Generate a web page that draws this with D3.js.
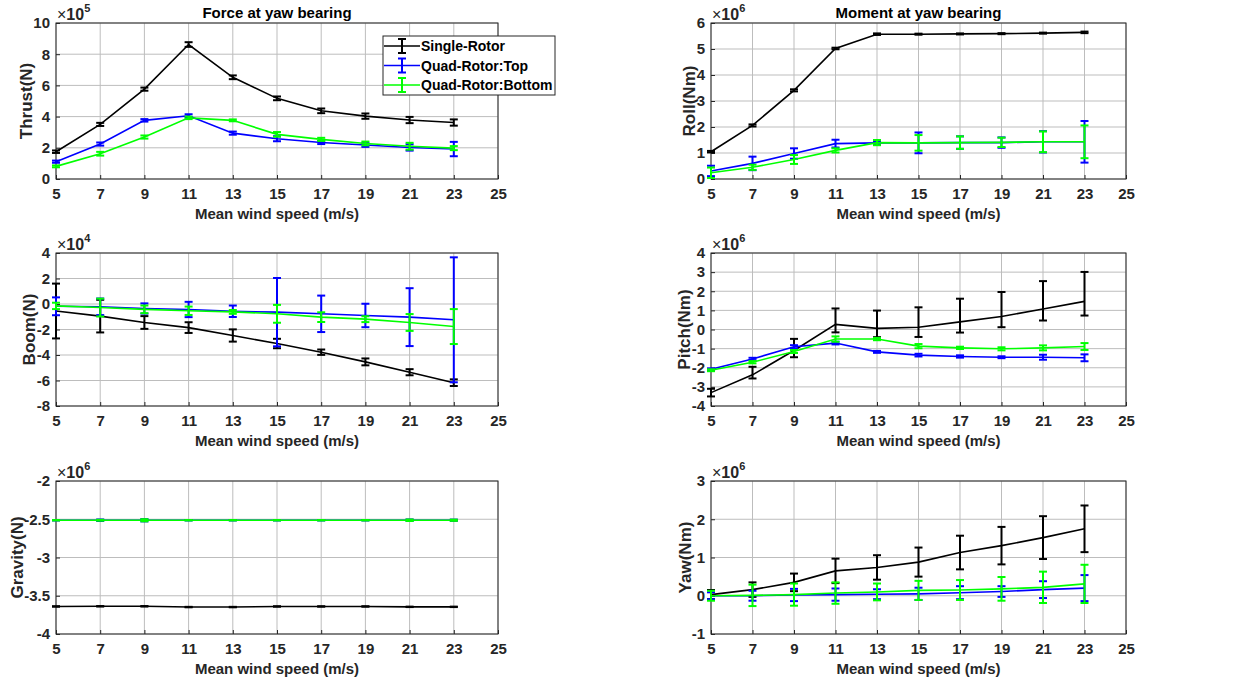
<!DOCTYPE html>
<html>
<head>
<meta charset="utf-8">
<script src="https://cdn.jsdelivr.net/npm/d3@7"></script>
<style>
  html, body { margin: 0; padding: 0; background: #fff; }
  svg { display: block; font-family: "Liberation Sans", Arial, Helvetica, sans-serif; }
</style>
</head>
<body>
<svg id="chart" width="1260" height="690"></svg>
<script>
// Mean wind speed (m/s) at which each load case was simulated
const windSpeed = [5, 7, 9, 11, 13, 15, 17, 19, 21, 23];
const xTicks = [5, 7, 9, 11, 13, 15, 17, 19, 21, 23, 25];
const seriesNames = ["Single-Rotor", "Quad-Rotor:Top", "Quad-Rotor:Bottom"];

// Thrust, x1e5 N
const thrustSingle    = [1.75, 3.50, 5.76, 8.62, 6.52, 5.17, 4.37, 4.03, 3.78, 3.62];
const thrustSingleErr = [0.08, 0.10, 0.10, 0.15, 0.12, 0.12, 0.15, 0.17, 0.20, 0.20];
const thrustTop       = [1.11, 2.24, 3.76, 4.05, 2.94, 2.58, 2.34, 2.18, 2.02, 1.92];
const thrustTopErr    = [0.07, 0.10, 0.08, 0.10, 0.10, 0.16, 0.10, 0.12, 0.20, 0.46];
const thrustBottom    = [0.81, 1.62, 2.69, 3.92, 3.76, 2.86, 2.54, 2.28, 2.10, 1.98];
const thrustBottomErr = [0.06, 0.12, 0.10, 0.08, 0.06, 0.15, 0.10, 0.12, 0.22, 0.13];
const thrustTicks = [0, 2, 4, 6, 8, 10];

// Roll moment, x1e6 Nm
const rollSingle    = [1.05, 2.06, 3.41, 5.02, 5.57, 5.57, 5.58, 5.59, 5.61, 5.64];
const rollSingleErr = [0.03, 0.04, 0.04, 0.03, 0.03, 0.02, 0.02, 0.02, 0.02, 0.03];
const rollTop       = [0.31, 0.60, 0.98, 1.36, 1.39, 1.39, 1.40, 1.40, 1.43, 1.43];
const rollTopErr    = [0.20, 0.26, 0.20, 0.15, 0.07, 0.40, 0.24, 0.20, 0.41, 0.80];
const rollBottom    = [0.24, 0.45, 0.75, 1.10, 1.40, 1.39, 1.40, 1.41, 1.43, 1.43];
const rollBottomErr = [0.20, 0.10, 0.17, 0.08, 0.10, 0.30, 0.24, 0.18, 0.40, 0.63];
const rollTicks = [0, 1, 2, 3, 4, 5, 6];

// Boom force, x1e4 N
const boomSingle    = [-0.55, -0.95, -1.45, -1.85, -2.47, -3.10, -3.78, -4.54, -5.35, -6.17];
const boomSingleErr = [2.15, 1.28, 0.50, 0.42, 0.48, 0.37, 0.21, 0.27, 0.24, 0.26];
const boomTop       = [-0.18, -0.22, -0.35, -0.43, -0.57, -0.64, -0.77, -0.90, -1.03, -1.24];
const boomTopErr    = [0.70, 0.65, 0.40, 0.60, 0.45, 2.68, 1.43, 0.92, 2.27, 4.90];
const boomBottom    = [-0.15, -0.28, -0.42, -0.53, -0.62, -0.77, -1.03, -1.19, -1.45, -1.77];
const boomBottomErr = [0.25, 0.70, 0.30, 0.33, 0.15, 0.70, 0.38, 0.23, 0.66, 1.37];
const boomTicks = [-8, -6, -4, -2, 0, 2, 4];

// Pitch moment, x1e6 Nm (single-rotor spread is skewed upward)
const pitchSingle        = [-3.30, -2.37, -1.10, 0.27, 0.06, 0.12, 0.40, 0.68, 1.07, 1.47];
const pitchSingleErrLow  = [0.20, 0.19, 0.35, 0.42, 0.46, 0.51, 0.56, 0.56, 0.60, 0.74];
const pitchSingleErrHigh = [0.20, 0.42, 0.61, 0.83, 0.93, 1.04, 1.21, 1.28, 1.46, 1.54];
const pitchTop       = [-2.08, -1.54, -0.90, -0.71, -1.17, -1.34, -1.41, -1.45, -1.45, -1.48];
const pitchTopErr    = [0.05, 0.06, 0.08, 0.07, 0.05, 0.07, 0.06, 0.05, 0.13, 0.18];
const pitchBottom    = [-2.13, -1.71, -1.15, -0.50, -0.50, -0.87, -0.96, -1.01, -0.96, -0.89];
const pitchBottomErr = [0.05, 0.06, 0.08, 0.14, 0.06, 0.11, 0.06, 0.08, 0.13, 0.18];
const pitchTicks = [-4, -3, -2, -1, 0, 1, 2, 3, 4];

// Gravity force, x1e6 N
const gravitySingle    = [-3.640, -3.638, -3.638, -3.648, -3.648, -3.640, -3.640, -3.640, -3.645, -3.645];
const gravitySingleErr = [0.003, 0.003, 0.003, 0.003, 0.003, 0.002, 0.002, 0.002, 0.003, 0.003];
const gravityTop       = [-2.513, -2.513, -2.513, -2.513, -2.513, -2.513, -2.513, -2.513, -2.513, -2.513];
const gravityTopErr    = [0.003, 0.010, 0.015, 0.003, 0.003, 0.003, 0.003, 0.003, 0.010, 0.008];
const gravityBottom    = [-2.513, -2.513, -2.513, -2.513, -2.513, -2.513, -2.513, -2.513, -2.513, -2.513];
const gravityBottomErr = [0.002, 0.006, 0.014, 0.002, 0.002, 0.002, 0.002, 0.002, 0.010, 0.008];
const gravityTicks = [-4, -3.5, -3, -2.5, -2];

// Yaw moment, x1e6 Nm
const yawSingle    = [0.03, 0.16, 0.35, 0.65, 0.74, 0.88, 1.13, 1.31, 1.52, 1.75];
const yawSingleErr = [0.12, 0.19, 0.23, 0.32, 0.32, 0.38, 0.44, 0.49, 0.56, 0.61];
const yawTop       = [0.00, 0.00, 0.02, 0.03, 0.04, 0.05, 0.08, 0.11, 0.16, 0.20];
const yawTopErr    = [0.09, 0.13, 0.16, 0.16, 0.13, 0.16, 0.17, 0.14, 0.22, 0.34];
const yawBottom    = [0.00, 0.01, 0.03, 0.07, 0.10, 0.14, 0.15, 0.18, 0.22, 0.31];
const yawBottomErr = [0.13, 0.28, 0.29, 0.28, 0.22, 0.25, 0.26, 0.31, 0.41, 0.50];
const yawTicks = [-1, 0, 1, 2, 3];

// ---- styling / layout ----
const colors = ["#000000", "#0000ff", "#00ff00"];
const axisColor = "#262626";
const gridColor = "#bdbdbd";
const colX = [[56, 498], [711, 1126]];
const rowY = [[23, 179], [253, 406], [481, 634]];

function series(vals, errLo, errHi) {
  return { vals, errLo, errHi: errHi || errLo };
}

const panels = [
  { col: 0, row: 0, title: "Force at yaw bearing", ylabel: "Thrust(N)", exp: 5, ticks: thrustTicks,
    data: [series(thrustSingle, thrustSingleErr), series(thrustTop, thrustTopErr), series(thrustBottom, thrustBottomErr)],
    legend: true },
  { col: 1, row: 0, title: "Moment at yaw bearing", ylabel: "Roll(Nm)", exp: 6, ticks: rollTicks,
    data: [series(rollSingle, rollSingleErr), series(rollTop, rollTopErr), series(rollBottom, rollBottomErr)] },
  { col: 0, row: 1, ylabel: "Boom(N)", exp: 4, ticks: boomTicks,
    data: [series(boomSingle, boomSingleErr), series(boomTop, boomTopErr), series(boomBottom, boomBottomErr)] },
  { col: 1, row: 1, ylabel: "Pitch(Nm)", exp: 6, ticks: pitchTicks,
    data: [series(pitchSingle, pitchSingleErrLow, pitchSingleErrHigh), series(pitchTop, pitchTopErr), series(pitchBottom, pitchBottomErr)] },
  { col: 0, row: 2, ylabel: "Gravity(N)", exp: 6, ticks: gravityTicks,
    data: [series(gravitySingle, gravitySingleErr), series(gravityTop, gravityTopErr), series(gravityBottom, gravityBottomErr)] },
  { col: 1, row: 2, ylabel: "Yaw(Nm)", exp: 6, ticks: yawTicks,
    data: [series(yawSingle, yawSingleErr), series(yawTop, yawTopErr), series(yawBottom, yawBottomErr)] }
];

const svg = d3.select("#chart");
const capHalf = 4;

function drawErrorBar(g, cx, yTop, yBot, color) {
  g.append("line").attr("x1", cx).attr("x2", cx).attr("y1", yTop).attr("y2", yBot)
    .attr("stroke", color).attr("stroke-width", 2);
  [yTop, yBot].forEach(yy => g.append("line")
    .attr("x1", cx - capHalf).attr("x2", cx + capHalf).attr("y1", yy).attr("y2", yy)
    .attr("stroke", color).attr("stroke-width", 2));
}

panels.forEach(p => {
  const [x0, x1] = colX[p.col];
  const [y0, y1] = rowY[p.row];
  const x = d3.scaleLinear().domain([5, 25]).range([x0, x1]);
  const y = d3.scaleLinear().domain(d3.extent(p.ticks)).range([y1, y0]);
  const g = svg.append("g");

  // grid
  g.append("g").selectAll("line").data(xTicks).join("line")
    .attr("x1", d => x(d)).attr("x2", d => x(d)).attr("y1", y0).attr("y2", y1)
    .attr("stroke", gridColor).attr("stroke-width", 1);
  g.append("g").selectAll("line").data(p.ticks).join("line")
    .attr("x1", x0).attr("x2", x1).attr("y1", d => y(d)).attr("y2", d => y(d))
    .attr("stroke", gridColor).attr("stroke-width", 1);

  // axes (ticks pointing inward, MATLAB style)
  const fmt = d => String(d);
  const xAxis = g.append("g").attr("transform", `translate(0,${y1})`)
    .call(d3.axisBottom(x).tickValues(xTicks).tickFormat(fmt).tickSizeInner(-4).tickSizeOuter(0).tickPadding(9));
  const yAxis = g.append("g").attr("transform", `translate(${x0},0)`)
    .call(d3.axisLeft(y).tickValues(p.ticks).tickFormat(fmt).tickSizeInner(-4).tickSizeOuter(0).tickPadding(6));
  [xAxis, yAxis].forEach(a => {
    a.select(".domain").remove();
    a.selectAll(".tick line").attr("stroke", axisColor);
    a.selectAll("text").attr("fill", axisColor).attr("font-size", 15).attr("font-weight", "bold");
  });

  // box
  g.append("rect").attr("x", x0).attr("y", y0).attr("width", x1 - x0).attr("height", y1 - y0)
    .attr("fill", "none").attr("stroke", axisColor).attr("stroke-width", 1);

  // series: line then error bars, in plotting order
  const line = d3.line().x((d, i) => x(windSpeed[i])).y(d => y(d));
  p.data.forEach((s, k) => {
    const sg = g.append("g");
    sg.append("path").attr("d", line(s.vals)).attr("fill", "none")
      .attr("stroke", colors[k]).attr("stroke-width", 1.6);
    s.vals.forEach((v, i) => {
      drawErrorBar(sg, x(windSpeed[i]), y(v + s.errHi[i]), y(v - s.errLo[i]), colors[k]);
    });
  });

  // exponent label
  const ex = g.append("text").attr("x", x0 + 1).attr("y", y0 - 3)
    .attr("font-size", 16).attr("fill", axisColor);
  ex.append("tspan").text("\u00d7");
  ex.append("tspan").attr("font-weight", "bold").text("10");
  ex.append("tspan").attr("font-size", 11).attr("font-weight", "bold").attr("dy", -8).text(String(p.exp));

  // y label placed left of widest tick label
  let maxW = 0;
  yAxis.selectAll("text").each(function () { maxW = Math.max(maxW, this.getBBox().width); });
  const lx = x0 - 7 - maxW;
  g.append("text").attr("transform", `translate(${lx},${(y0 + y1) / 2}) rotate(-90)`)
    .attr("text-anchor", "middle").attr("font-size", 17).attr("font-weight", "bold")
    .attr("fill", axisColor).text(p.ylabel);

  // x label
  g.append("text").attr("x", (x0 + x1) / 2).attr("y", y1 + 40)
    .attr("text-anchor", "middle").attr("font-size", 15).attr("font-weight", "bold")
    .attr("fill", axisColor).text("Mean wind speed (m/s)");

  // title
  if (p.title) {
    g.append("text").attr("x", (x0 + x1) / 2).attr("y", y0 - 5)
      .attr("text-anchor", "middle").attr("font-size", 15).attr("font-weight", "bold")
      .attr("fill", "#000").text(p.title);
  }

  // legend
  if (p.legend) {
    const lg = svg.append("g").attr("transform", "translate(383,36)");
    lg.append("rect").attr("width", 172).attr("height", 59)
      .attr("fill", "#fff").attr("stroke", axisColor).attr("stroke-width", 1);
    seriesNames.forEach((name, k) => {
      const cy = 10 + k * 19.5;
      lg.append("line").attr("x1", 1).attr("x2", 37).attr("y1", cy).attr("y2", cy)
        .attr("stroke", colors[k]).attr("stroke-width", 1.6);
      drawErrorBar(lg, 19, cy - 7, cy + 7, colors[k]);
      lg.append("text").attr("x", 38).attr("y", cy + 5).attr("font-size", 14)
        .attr("font-weight", "bold").attr("fill", "#000").text(name);
    });
  }
});
</script>
</body>
</html>
